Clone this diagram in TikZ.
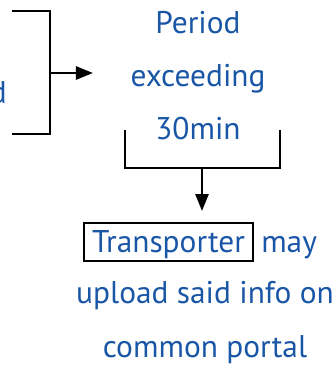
\documentclass[tikz,border=0pt]{standalone}
\usepackage{fontspec}
\setmainfont{PT Sans}
\usetikzlibrary{arrows.meta}
\definecolor{txtblue}{RGB}{26,86,166}
\tikzset{
  lbl/.style={text=txtblue, font=\fontsize{31.5}{38}\selectfont, inner sep=0pt, anchor=base},
  brk/.style={line width=2.6bp},
  arr/.style={line width=2.6bp, -{Triangle[length=17bp,width=13bp]}},
  tbox/.style={draw, line width=2bp, inner xsep=8bp, inner ysep=0pt, minimum height=38bp, text depth=0pt}
}
\begin{document}
\begin{tikzpicture}[x=1bp,y=-1bp]
\useasboundingbox (0,0) rectangle (336,369);
% left clipped text
\node[lbl, anchor=base east] (cut) at (7,103) {d};
% left bracket
\coordinate (lt) at (12,11);
\coordinate (lb) at (12,134);
\draw[brk] (lt) -- (50,11) -- (50,134) -- (lb);
\coordinate (la) at (50,73);
% period text
\node[lbl] (p1) at (198,33) {Period};
\node[lbl] (p2) at (198,86) {exceeding};
\node[lbl] (p3) at (198,139) {30min};
\coordinate (pw) at (93,73);
\draw[arr] (la) -- (pw);
% lower bracket
\draw[brk] (125,130) -- (125,168) -- (280,168) -- (280,130);
\coordinate (ba) at (202,168);
\coordinate (bt) at (202,211);
\draw[arr] (ba) -- (bt);
% bottom text
\node[tbox, anchor=north west, text=txtblue, font=\fontsize{31.5}{38}\selectfont] (tr) at (83,222) {Transporter};
\node[lbl, anchor=base west] (may) at ([xshift=7bp]tr.base east) {may};
\node[lbl] (u2) at (205,303) {upload said info on};
\node[lbl] (u3) at (205,357) {common portal};
\end{tikzpicture}
\end{document}
